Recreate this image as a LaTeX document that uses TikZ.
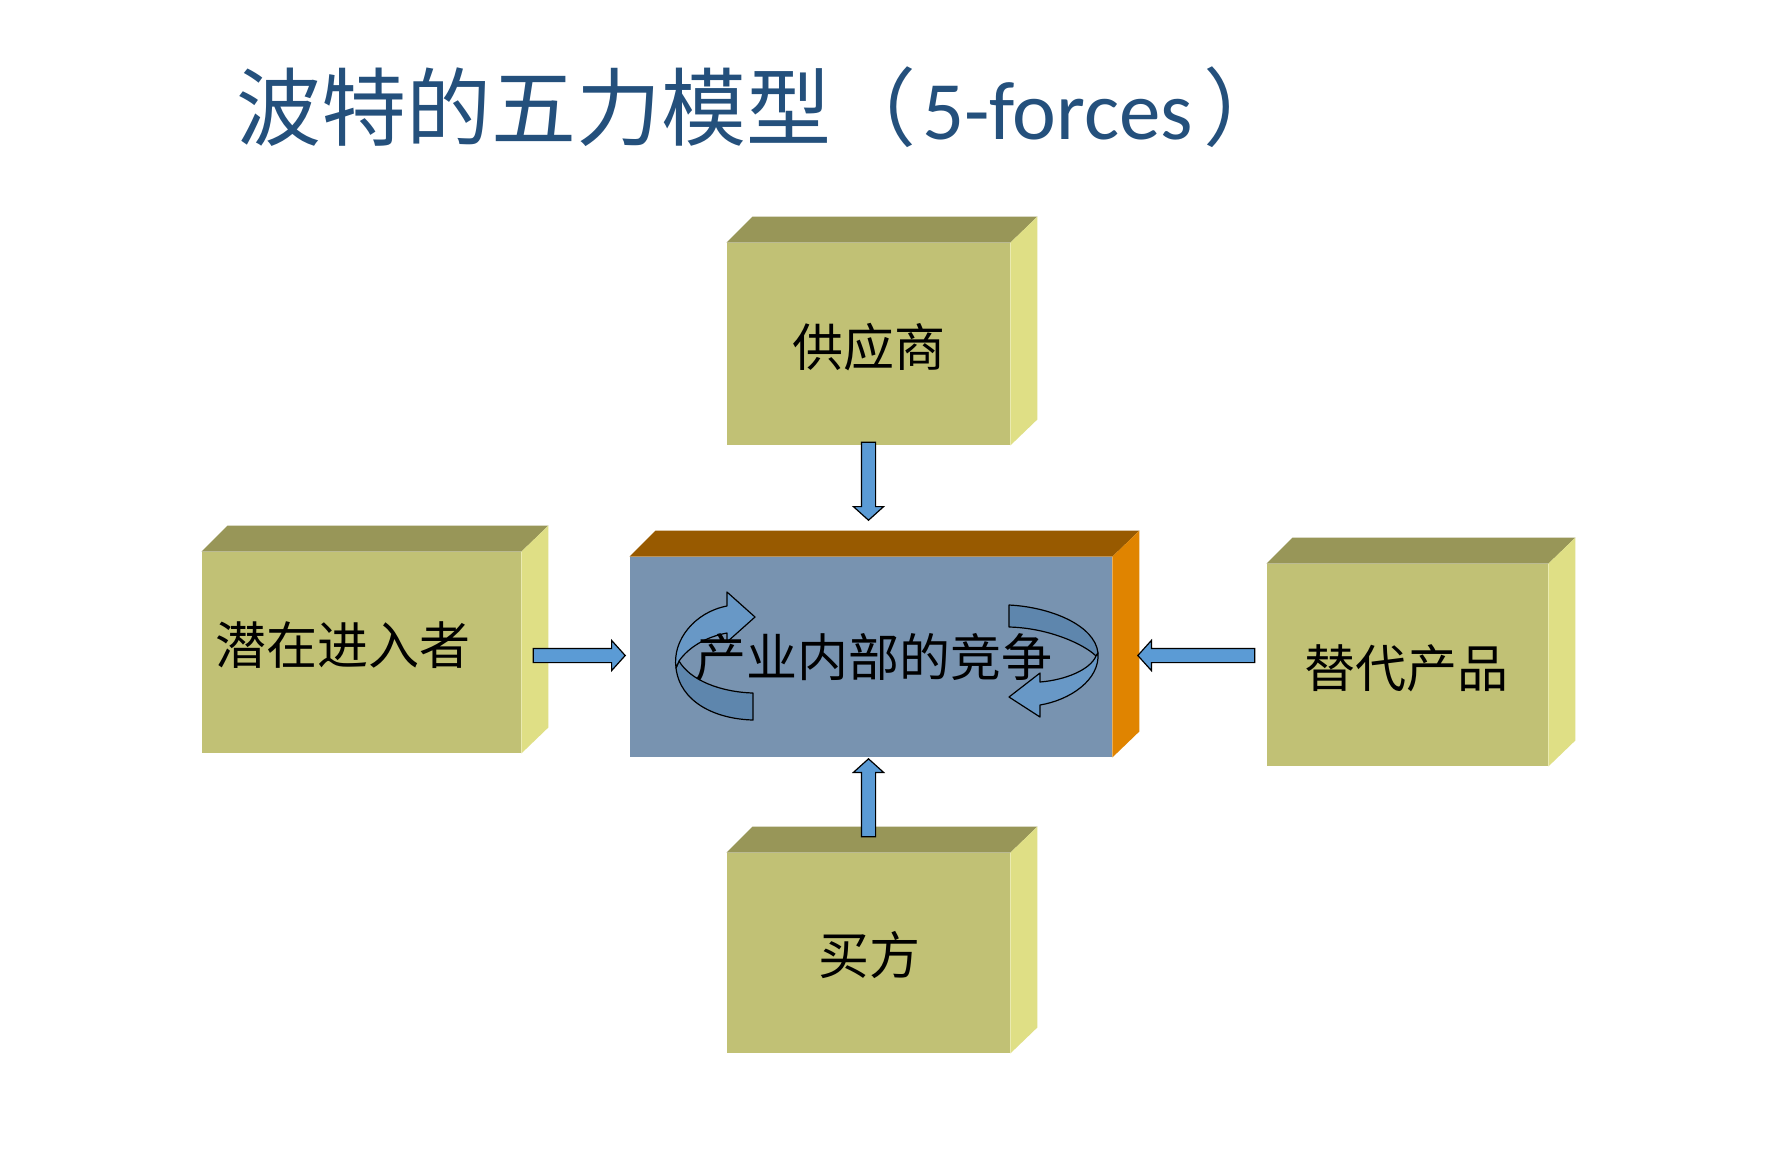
\documentclass[tikz,border=0pt]{standalone}
\usepackage{fontspec}
\setmainfont{Noto Sans CJK SC}
\newfontfamily\latfont{Carlito}
\usetikzlibrary{shapes.arrows,calc}
\definecolor{frontc}{HTML}{C1C175}
\definecolor{topc}{HTML}{989658}
\definecolor{sidec}{HTML}{DFDF85}
\definecolor{cfront}{HTML}{7893B0}
\definecolor{ctop}{HTML}{985A00}
\definecolor{cside}{HTML}{E08400}
\definecolor{arrowc}{HTML}{5B9BD5}
\definecolor{bandlight}{HTML}{6898C6}
\definecolor{banddark}{HTML}{5E86AD}
\definecolor{titlec}{HTML}{24507C}
\newcommand\cubefaces[3]{%
  \fill[#2] (#1.north west) -- ++(26,-26) -- ($(#1.north east)+(27,-26)$) -- (#1.north east) -- cycle;
  \fill[#3] (#1.north east) -- ++(27,-26) -- ($(#1.south east)+(27,-26)$) -- (#1.south east) -- cycle;}
\begin{document}
\begin{tikzpicture}[x=0.5pt,y=-0.5pt,
  facebox/.style={fill=frontc, inner sep=0pt},
  lbl/.style={inner sep=0pt, font=\fontsize{25.5pt}{30pt}\selectfont},
  sarrow/.style={single arrow, draw=black, line width=0.6pt, fill=arrowc, inner xsep=0pt, inner ysep=3.25pt, minimum width=0pt, single arrow head extend=4pt, single arrow tip angle=96},
  band/.style={draw=black, line width=0.6pt, line join=round}]
\useasboundingbox (0,0) rectangle (1776,1152);
\fill[white] (0,0) rectangle (1776,1152);

% title
\node[anchor=base west, inner sep=0pt, text=titlec] (title) at (236,139)
  {\fontsize{42.5pt}{50pt}\selectfont 波特的五力模型（\kern3pt{\latfont\fontsize{41.5pt}{48pt}\selectfont 5-forces}\kern5pt）};

% boxes
\node[facebox, minimum width=141.5pt, minimum height=101pt] (sup) at (868.5,344) {};
\cubefaces{sup}{topc}{sidec}
\node[lbl] (tsup) at (868.5,347) {供应商};

\node[facebox, minimum width=159.5pt, minimum height=100.5pt] (ent) at (361.5,652.5) {};
\cubefaces{ent}{topc}{sidec}
\node[lbl] (tent) at (343,645) {潜在进入者};

\node[facebox, minimum width=140.5pt, minimum height=101pt] (sub) at (1407.5,665) {};
\cubefaces{sub}{topc}{sidec}
\node[lbl] (tsub) at (1406,668) {替代产品};

\node[facebox, minimum width=141.5pt, minimum height=100pt] (buy) at (868.5,953) {};
\cubefaces{buy}{topc}{sidec}
\node[lbl] (tbuy) at (869,955) {买方};

\node[facebox, fill=cfront, minimum width=241pt, minimum height=100pt] (ind) at (871,657) {};
\cubefaces{ind}{ctop}{cside}

% circular arrows
\draw[band, fill=banddark] (676,668) .. controls (680,702) and (715,719) .. (753,720) -- (753,693) .. controls (720,692) and (690,680) .. (679,661) -- cycle;
\draw[band, fill=bandlight] (676,668) .. controls (672,640) and (695,612) .. (727,606) -- (727,592) -- (755,617) -- (727,642) -- (727,633) .. controls (705,637) and (688,648) .. (679,661) -- cycle;

\draw[band, fill=banddark] (1009,605) .. controls (1050,607) and (1095,625) .. (1098,653) -- (1096,656) .. controls (1085,645) and (1050,628) .. (1009,627) -- cycle;
\draw[band, fill=bandlight] (1098,653) .. controls (1100,680) and (1070,700) .. (1040,705) -- (1040,717) -- (1009,697) -- (1040,673) -- (1040,682) .. controls (1065,680) and (1090,670) .. (1096,656) -- cycle;

\node[lbl] (tind) at (874,657) {产业内部的竞争};

% block arrows
\node[sarrow, minimum height=39pt, rotate=-90] (a1) at (868.5,478) {};
\node[sarrow, minimum height=46pt] (a2) at (576,655.5) {};
\node[sarrow, minimum height=58.5pt, rotate=180] (a3) at (1199.5,655.5) {};
\node[sarrow, minimum height=39pt, rotate=90] (a4) at (868.5,801) {};
\end{tikzpicture}
\end{document}
